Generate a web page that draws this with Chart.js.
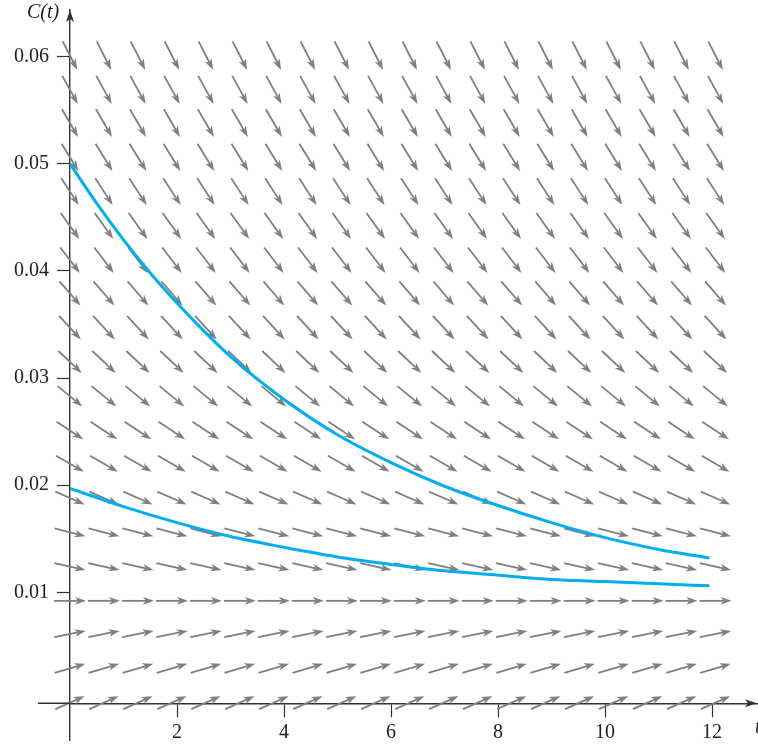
<!DOCTYPE html>
<html>
<head>
<meta charset="utf-8">
<script src="https://cdn.jsdelivr.net/npm/chart.js@4.4.1/dist/chart.umd.min.js"></script>
<style>
  html, body { margin: 0; padding: 0; background: #fff; }
  #wrap { width: 758px; height: 746px; }
</style>
</head>
<body>
<div id="wrap"><canvas id="field"></canvas></div>
<script>
// tick labels
var xTicks = [2, 4, 6, 8, 10, 12];
var yTicks = [0.01, 0.02, 0.03, 0.04, 0.05, 0.06];

// direction field: grid columns (t), rows (C) and the slope dC/dt read for each row
var fieldT = [0, 0.635, 1.27, 1.905, 2.54, 3.175, 3.81, 4.445, 5.08, 5.715,
              6.35, 6.985, 7.62, 8.255, 8.89, 9.525, 10.16, 10.795, 11.43, 12.065];
var fieldC = [-0.0003, 0.0029, 0.0061, 0.0092, 0.0124, 0.0156, 0.0188, 0.0220, 0.0251, 0.0283,
              0.0315, 0.0347, 0.0379, 0.0410, 0.0442, 0.0474, 0.0506, 0.0538, 0.0569, 0.0601];
var fieldSlope = [0.0022, 0.0015, 0.0010, 0, -0.0011, -0.0013, -0.0022, -0.0029, -0.0033, -0.0041,
                  -0.0047, -0.0054, -0.0058, -0.0065, -0.0070, -0.0077, -0.0081, -0.0086, -0.0091, -0.0098];

// solution curves
var upperT = [0, 0.5, 1, 1.5, 2, 2.5, 3, 4, 5, 6, 7, 8, 9, 10, 11, 11.95];
var upperC = [0.0500, 0.0463, 0.0429, 0.0398, 0.0370, 0.0344, 0.0320, 0.0280, 0.0247, 0.0221,
              0.0199, 0.0181, 0.0165, 0.0151, 0.0140, 0.0132];
var lowerT = [0, 1, 2, 3, 4, 5, 6, 7, 8, 9, 10, 11, 11.95];
var lowerC = [0.0197, 0.0180, 0.0165, 0.0152, 0.0142, 0.0133, 0.0126, 0.0120, 0.0116, 0.0112,
              0.0110, 0.0108, 0.0106];

var xAxisAt = -0.00036;
var axisColor = '#333333';
var serif = "'Liberation Serif', 'Times New Roman', serif";

function points(ts, cs) {
  return ts.map(function(t, i) { return { x: t, y: cs[i] }; });
}

var fieldPlugin = {
  id: 'field',
  beforeDatasetsDraw: function(chart) {
    var ctx = chart.ctx;
    var xs = chart.scales.x, ys = chart.scales.y;
    var L = 32, head = 11, half = 3.8;
    ctx.save();
    ctx.strokeStyle = '#7f7f7f';
    ctx.fillStyle = '#7f7f7f';
    ctx.lineWidth = 1.8;
    fieldC.forEach(function(c, r) {
      var s = fieldSlope[r];
      fieldT.forEach(function(t) {
        var cx = xs.getPixelForValue(t), cy = ys.getPixelForValue(c);
        var dx = xs.getPixelForValue(t + 1) - cx;
        var dy = ys.getPixelForValue(c + s) - cy;
        var len = Math.sqrt(dx * dx + dy * dy);
        var ux = dx / len, uy = dy / len;
        var x0 = cx - ux * L / 2, y0 = cy - uy * L / 2;
        var x1 = cx + ux * L / 2, y1 = cy + uy * L / 2;
        ctx.beginPath();
        ctx.moveTo(x0, y0);
        ctx.lineTo(x1 - ux * (head - 3), y1 - uy * (head - 3));
        ctx.stroke();
        ctx.beginPath();
        ctx.moveTo(x1, y1);
        ctx.lineTo(x1 - ux * head - uy * half, y1 - uy * head + ux * half);
        ctx.lineTo(x1 - ux * (head - 3), y1 - uy * (head - 3));
        ctx.lineTo(x1 - ux * head + uy * half, y1 - uy * head - ux * half);
        ctx.closePath();
        ctx.fill();
      });
    });
    ctx.restore();
  },
  afterDraw: function(chart) {
    var ctx = chart.ctx;
    var xs = chart.scales.x, ys = chart.scales.y;
    var area = chart.chartArea;
    var ax = xs.getPixelForValue(0);
    var ay = ys.getPixelForValue(xAxisAt);
    ctx.save();
    ctx.strokeStyle = axisColor;
    ctx.fillStyle = axisColor;
    ctx.lineWidth = 1.4;
    // x axis continues a little left of the C axis
    ctx.beginPath();
    ctx.moveTo(xs.getPixelForValue(-0.6), ay);
    ctx.lineTo(area.left, ay);
    ctx.stroke();
    // arrow heads
    ctx.beginPath();
    ctx.moveTo(ax, area.top);
    ctx.lineTo(ax - 4, area.top + 12);
    ctx.lineTo(ax, area.top + 9);
    ctx.lineTo(ax + 4, area.top + 12);
    ctx.closePath();
    ctx.fill();
    ctx.beginPath();
    ctx.moveTo(area.right, ay);
    ctx.lineTo(area.right - 12, ay - 4);
    ctx.lineTo(area.right - 9, ay);
    ctx.lineTo(area.right - 12, ay + 4);
    ctx.closePath();
    ctx.fill();
    // axis names
    ctx.fillStyle = '#222';
    ctx.font = 'italic 20px ' + serif;
    ctx.textAlign = 'left';
    ctx.textBaseline = 'alphabetic';
    ctx.fillText('C(t)', 27, 18);
    ctx.fillText('t', 755, 733);
    ctx.restore();
  }
};

new Chart(document.getElementById('field'), {
  type: 'scatter',
  data: {
    datasets: [
      { data: points(upperT, upperC), showLine: true, borderColor: '#00aeef', borderWidth: 3,
        pointRadius: 0, cubicInterpolationMode: 'monotone' },
      { data: points(lowerT, lowerC), showLine: true, borderColor: '#00aeef', borderWidth: 3,
        pointRadius: 0, cubicInterpolationMode: 'monotone' }
    ]
  },
  options: {
    responsive: true,
    maintainAspectRatio: false,
    animation: false,
    events: [],
    layout: { padding: { top: 10, bottom: 6, left: 0, right: 1 } },
    plugins: { legend: { display: false }, tooltip: { enabled: false } },
    scales: {
      x: {
        type: 'linear', min: 0, max: 12.84,
        position: { y: xAxisAt },
        afterBuildTicks: function(s) { s.ticks = xTicks.map(function(v) { return { value: v }; }); },
        afterFit: function(s) { s.paddingLeft = 0; s.paddingRight = 0; },
        grid: { drawOnChartArea: false, drawTicks: true, tickLength: 13, color: axisColor, tickWidth: 1.2 },
        border: { display: true, color: axisColor, width: 1.4 },
        ticks: { font: { family: serif, size: 20 }, color: '#222', padding: 4, maxRotation: 0, autoSkip: false }
      },
      y: {
        type: 'linear', min: -0.00379, max: 0.06436,
        position: 'left',
        afterBuildTicks: function(s) { s.ticks = yTicks.map(function(v) { return { value: v }; }); },
        afterFit: function(s) { s.width = 70; s.paddingTop = 0; s.paddingBottom = 0; },
        grid: { drawOnChartArea: false, drawTicks: true, tickLength: 13, color: axisColor, tickWidth: 1.2 },
        border: { display: true, color: axisColor, width: 1.4 },
        ticks: {
          font: { family: serif, size: 20 }, color: '#222', padding: 8, autoSkip: false,
          callback: function(v) { return v.toFixed(2); }
        }
      }
    }
  },
  plugins: [fieldPlugin]
});
</script>
</body>
</html>
